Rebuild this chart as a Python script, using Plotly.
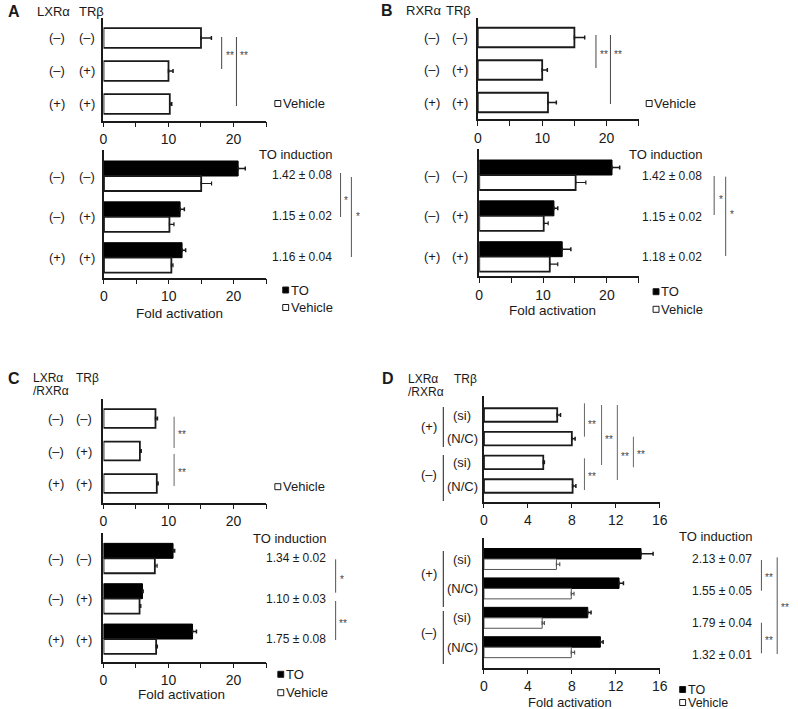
import plotly.graph_objects as go

# ---------------- data ----------------
ABC_LXR = ["(–)", "(–)", "(+)"]
ABC_TR = ["(–)", "(+)", "(+)"]
D_SIRNA = ["(si)", "(N/C)", "(si)", "(N/C)"]
D_TR = ["(+)", "(–)"]

A_VEH_TOP = [15.0, 10.0, 10.2]
A_VEH_TOP_ERR = [1.6, 0.7, 0.3]
A_TO = [20.7, 11.75, 12.05]
A_TO_ERR = [1.1, 0.65, 0.55]
A_VEH = [15.0, 10.1, 10.4]
A_VEH_ERR = [1.6, 0.7, 0.25]
A_INDUCTION = ["1.42 ± 0.08", "1.15 ± 0.02", "1.16 ± 0.04"]

B_VEH_TOP = [15.0, 10.0, 10.9]
B_VEH_TOP_ERR = [1.6, 0.8, 1.3]
B_TO = [20.8, 11.7, 13.0]
B_TO_ERR = [1.2, 0.6, 1.35]
B_VEH = [15.1, 10.1, 11.05]
B_VEH_ERR = [1.6, 0.7, 1.25]
B_INDUCTION = ["1.42 ± 0.08", "1.15 ± 0.02", "1.18 ± 0.02"]

C_VEH_TOP = [8.0, 5.6, 8.2]
C_VEH_TOP_ERR = [0.3, 0.2, 0.2]
C_TO = [10.7, 6.0, 13.7]
C_TO_ERR = [0.25, 0.1, 0.6]
C_VEH = [7.9, 5.55, 8.1]
C_VEH_ERR = [0.35, 0.2, 0.2]
C_INDUCTION = ["1.34 ± 0.02", "1.10 ± 0.03", "1.75 ± 0.08"]

D_VEH_TOP = [6.67, 8.0, 5.4, 8.07]
D_VEH_TOP_ERR = [0.3, 0.3, 0.1, 0.3]
D_TO = [14.3, 12.3, 9.45, 10.6]
D_TO_ERR = [1.1, 0.4, 0.3, 0.25]
D_VEH = [6.6, 7.95, 5.3, 7.95]
D_VEH_ERR = [0.3, 0.25, 0.2, 0.3]
D_INDUCTION = ["2.13 ± 0.07", "1.55 ± 0.05", "1.79 ± 0.04", "1.32 ± 0.01"]

TICKS_25 = [0, 5, 10, 15, 20, 25]
TICKTEXT_25 = ["0", "", "10", "", "20", ""]
TICKS_16 = [0, 4, 8, 12, 16]
TICKTEXT_16 = ["0", "4", "8", "12", "16"]

# ---------------- helpers ----------------
W, H = 798, 709
FONT = "Liberation Sans, Arial, sans-serif"
INK = "#1a1a1a"

def px(x):
    return x / W

def py(y):
    return 1 - y / H

fig = go.Figure()
axes = {}
annotations = []
shapes = []


def names(k):
    return ("x" if k == 1 else f"x{k}"), ("y" if k == 1 else f"y{k}")


def add_axes(k, x0, x1, ytop, ybot, xmax, tickvals, ticktext, c0, sp, n):
    xn, yn = names(k)
    lo = -(c0 - ytop) / sp
    hi = (n - 1) + (ybot - (c0 + (n - 1) * sp)) / sp
    sfx = "" if k == 1 else str(k)
    axes["xaxis" + sfx] = dict(
        domain=[px(x0), px(x1)], range=[0, xmax], anchor=yn,
        tickmode="array", tickvals=tickvals, ticktext=ticktext,
        ticks="outside", ticklen=5, tickwidth=1.2, tickcolor=INK,
        showline=True, linecolor=INK, linewidth=1.5,
        showgrid=False, zeroline=False, ticklabelstandoff=0,
        tickfont=dict(size=14, color=INK, family=FONT), fixedrange=True)
    axes["yaxis" + sfx] = dict(
        domain=[py(ybot), py(ytop)], range=[hi, lo], anchor=xn,
        showline=True, linecolor=INK, linewidth=1.5,
        showticklabels=False, ticks="", showgrid=False, zeroline=False,
        fixedrange=True)


def err(arr):
    return dict(type="data", symmetric=False, array=arr,
                arrayminus=[0] * len(arr), color=INK, thickness=1.5, width=2)


def single_bars(k, vals, errs, width, name):
    xn, yn = names(k)
    fig.add_trace(go.Bar(
        x=vals, y=list(range(len(vals))), orientation="h", width=width,
        marker=dict(color="white", line=dict(color=INK, width=1.8)),
        error_x=err(errs), xaxis=xn, yaxis=yn, name=name, showlegend=False))


def pair_bars(k, to_vals, to_err, veh_vals, veh_err, h, veh_line=(INK, 1.8)):
    xn, yn = names(k)
    n = len(to_vals)
    fig.add_trace(go.Bar(
        x=to_vals, y=[i - h / 2 for i in range(n)], orientation="h", width=h,
        marker=dict(color="black", line=dict(color="black", width=1)),
        error_x=err(to_err), xaxis=xn, yaxis=yn, name="TO", showlegend=False))
    fig.add_trace(go.Bar(
        x=veh_vals, y=[i + h / 2 for i in range(n)], orientation="h", width=h,
        marker=dict(color="white", line=dict(color=veh_line[0], width=veh_line[1])),
        error_x=dict(type="data", symmetric=False, array=veh_err,
                     arrayminus=[0] * n, color=veh_line[0], thickness=1.2, width=2),
        xaxis=xn, yaxis=yn, name="Vehicle", showlegend=False))


def text(x, y, s, size=13, anchor="center", bold=False, yref="paper", color=INK):
    annotations.append(dict(
        x=px(x), y=(py(y) if yref == "paper" else y), xref="paper", yref=yref,
        text=(f"<b>{s}</b>" if bold else s), showarrow=False,
        xanchor=anchor, yanchor="middle", borderpad=0,
        font=dict(size=size, color=color, family=FONT)))


def vline(x, y0, y1, color="#444", width=1):
    shapes.append(dict(type="line", xref="paper", yref="paper",
                       x0=px(x), x1=px(x), y0=py(y0), y1=py(y1),
                       line=dict(color=color, width=width)))


def stars(x, y, s):
    text(x, y + 3, s, size=10, anchor="left", color="#444")


def legend_item(x, y, filled, label, size=13):
    shapes.append(dict(type="rect", xref="paper", yref="paper",
                       x0=px(x), x1=px(x + 6), y0=py(y + 3), y1=py(y - 3),
                       fillcolor=("black" if filled else "white"),
                       line=dict(color=INK, width=1)))
    text(x + 7, y, label, size=size, anchor="left")


def row_labels(k, cols, labels_by_col):
    _, yn = names(k)
    for cx, labels in zip(cols, labels_by_col):
        for i, lab in enumerate(labels):
            text(cx, i, lab, yref=yn)


# ---------------- Panel A ----------------
add_axes(1, 101, 266, 18, 120.5, 25, TICKS_25, TICKTEXT_25, 38, 33, 3)
single_bars(1, A_VEH_TOP, A_VEH_TOP_ERR, 0.6, "Vehicle")
row_labels(1, [54, 84.5], [ABC_LXR, ABC_TR])
vline(221, 37, 69); stars(224, 53, "**")
vline(236, 37, 106); stars(239, 53, "**")
legend_item(275, 103.5, False, "Vehicle")
text(3, 12, "A", size=16, anchor="left", bold=True)
text(32, 12, "LXRα", size=13, anchor="left")
text(75, 12, "TRβ", size=13, anchor="left")

add_axes(2, 101.5, 266, 150, 277.7, 25, TICKS_25, TICKTEXT_25, 176, 40.85, 3)
pair_bars(2, A_TO, A_TO_ERR, A_VEH, A_VEH_ERR, 0.367)
row_labels(2, [54, 84.5], [ABC_LXR, ABC_TR])
text(334, 154, "TO induction", anchor="right")
for i, s in enumerate(A_INDUCTION):
    text(334, 175 + i * 41, s, size=12, anchor="right")
vline(341.7, 173, 217, color="#555"); stars(344.5, 197, "*")
vline(352.7, 177, 257, color="#555"); stars(356, 214, "*")
legend_item(283, 290, True, "TO")
legend_item(283, 307.5, False, "Vehicle")
text(178, 313, "Fold activation", size=13.5)

# ---------------- Panel B ----------------
add_axes(3, 481, 644.5, 18, 119, 25, TICKS_25, TICKTEXT_25, 37.5, 32.5, 3)
single_bars(3, B_VEH_TOP, B_VEH_TOP_ERR, 0.6, "Vehicle")
row_labels(3, [435, 463], [ABC_LXR, ABC_TR])
vline(601, 35, 68); stars(604, 52, "**")
vline(615.7, 35, 104); stars(618.5, 52, "**")
legend_item(652, 103.5, False, "Vehicle")
text(382, 11, "B", size=16, anchor="left", bold=True)
text(407, 11, "RXRα", size=13, anchor="left")
text(448, 11, "TRβ", size=13, anchor="left")

add_axes(4, 482.5, 644.5, 149.3, 276, 25, TICKS_25, TICKTEXT_25, 175, 40.85, 3)
pair_bars(4, B_TO, B_TO_ERR, B_VEH, B_VEH_ERR, 0.367)
row_labels(4, [435, 463], [ABC_LXR, ABC_TR])
text(710, 154, "TO induction", anchor="right")
for i, s in enumerate(B_INDUCTION):
    text(710, 176 + i * 40.7, s, size=12, anchor="right")
vline(721, 176, 215, color="#555"); stars(724.5, 196.7, "*")
vline(732.7, 176.7, 256, color="#555"); stars(736, 211.7, "*")
legend_item(659, 291.7, True, "TO")
legend_item(659, 309.3, False, "Vehicle")
text(556.7, 310.7, "Fold activation", size=13.5)

# ---------------- Panel C ----------------
add_axes(5, 101, 266, 399, 502.7, 25, TICKS_25, TICKTEXT_25, 418.5, 32.5, 3)
single_bars(5, C_VEH_TOP, C_VEH_TOP_ERR, 0.58, "Vehicle")
row_labels(5, [53, 81.5], [ABC_LXR, ABC_TR])
vline(172.7, 416.7, 448, color="#666"); stars(176, 431.7, "**")
vline(172.7, 454, 486, color="#666"); stars(176, 469, "**")
legend_item(275, 486.7, False, "Vehicle")
text(3, 379, "C", size=16, anchor="left", bold=True)
text(28, 378, "LXRα", size=12, anchor="left")
text(72.5, 378, "TRβ", size=12, anchor="left")
text(28, 391, "/RXRα", size=12, anchor="left")

add_axes(6, 101, 266, 533, 661.7, 25, TICKS_25, TICKTEXT_25, 558.3, 40.35, 3)
pair_bars(6, C_TO, C_TO_ERR, C_VEH, C_VEH_ERR, 0.37)
row_labels(6, [53, 81.5], [ABC_LXR, ABC_TR])
text(328, 538, "TO induction", anchor="right")
for i, s in enumerate(C_INDUCTION):
    text(328, 558.3 + i * 40.5, s, size=12, anchor="right")
vline(336.7, 559.3, 592.7, color="#555"); stars(340, 576.7, "*")
vline(336.7, 601, 640, color="#555"); stars(339.5, 620.7, "**")
legend_item(278, 674.3, True, "TO")
legend_item(278, 692.7, False, "Vehicle")
text(180, 694, "Fold activation", size=13.5)

# ---------------- Panel D ----------------
add_axes(7, 487.3, 665.7, 396, 501.7, 16, TICKS_16, TICKTEXT_16, 415, 23.67, 4)
single_bars(7, D_VEH_TOP, D_VEH_TOP_ERR, 0.57, "Vehicle")
_, y7 = names(7)
for i, s in enumerate(D_SIRNA):
    text(465, i, s, yref=y7)
for j, s in enumerate(D_TR):
    text(431, 2 * j + 0.5, s, yref=y7)
vline(446, 407, 447, color=INK); vline(446, 455, 501, color=INK)
vline(589.3, 403.3, 436.7, color="#666"); stars(592, 421.7, "**")
vline(606.7, 405, 465, color="#666"); stars(609.5, 436, "**")
vline(622.7, 405, 480, color="#666"); stars(625.5, 453.3, "**")
vline(639, 436.7, 467.3, color="#666"); stars(641.5, 451, "**")
vline(589.3, 458.3, 490, color="#666"); stars(592, 473.3, "**")
text(383, 379, "D", size=16, anchor="left", bold=True)
text(409, 379, "LXRα", size=12, anchor="left")
text(456, 379, "TRβ", size=12, anchor="left")
text(409, 392, "/RXRα", size=12, anchor="left")

add_axes(8, 487.3, 665.7, 538.3, 667.7, 16, TICKS_16, TICKTEXT_16, 559, 29.4, 4)
pair_bars(8, D_TO, D_TO_ERR, D_VEH, D_VEH_ERR, 0.356, veh_line=("#555", 1))
_, y8 = names(8)
for i, s in enumerate(D_SIRNA):
    text(465, i, s, yref=y8)
for j, s in enumerate(D_TR):
    text(431, 2 * j + 0.5, s, yref=y8)
vline(446, 551, 607, color=INK); vline(446, 611, 664, color=INK)
text(760, 536.7, "TO induction", anchor="right")
for i, s in enumerate(D_INDUCTION):
    text(760, 559.3 + i * 31.9, s, size=12, anchor="right")
vline(769, 560, 590.7, color="#555"); stars(772, 574.3, "**")
vline(769, 622.7, 653.3, color="#555"); stars(772, 637.7, "**")
vline(785, 557.3, 654, color="#555"); stars(788, 604.3, "**")
legend_item(686, 689.5, True, "TO", size=12.5)
legend_item(686, 702.5, False, "Vehicle", size=12.5)
text(575, 702, "Fold activation", size=13)

fig.update_layout(
    width=W, height=H, margin=dict(l=0, r=0, t=0, b=0),
    paper_bgcolor="white", plot_bgcolor="white",
    barmode="overlay", showlegend=False,
    font=dict(family=FONT, size=13, color=INK),
    annotations=annotations, shapes=shapes, **axes)

fig.write_html(
    "out.html",
    config={"displayModeBar": False},
    post_script="document.body.style.margin='0';document.body.style.overflow='hidden';")
